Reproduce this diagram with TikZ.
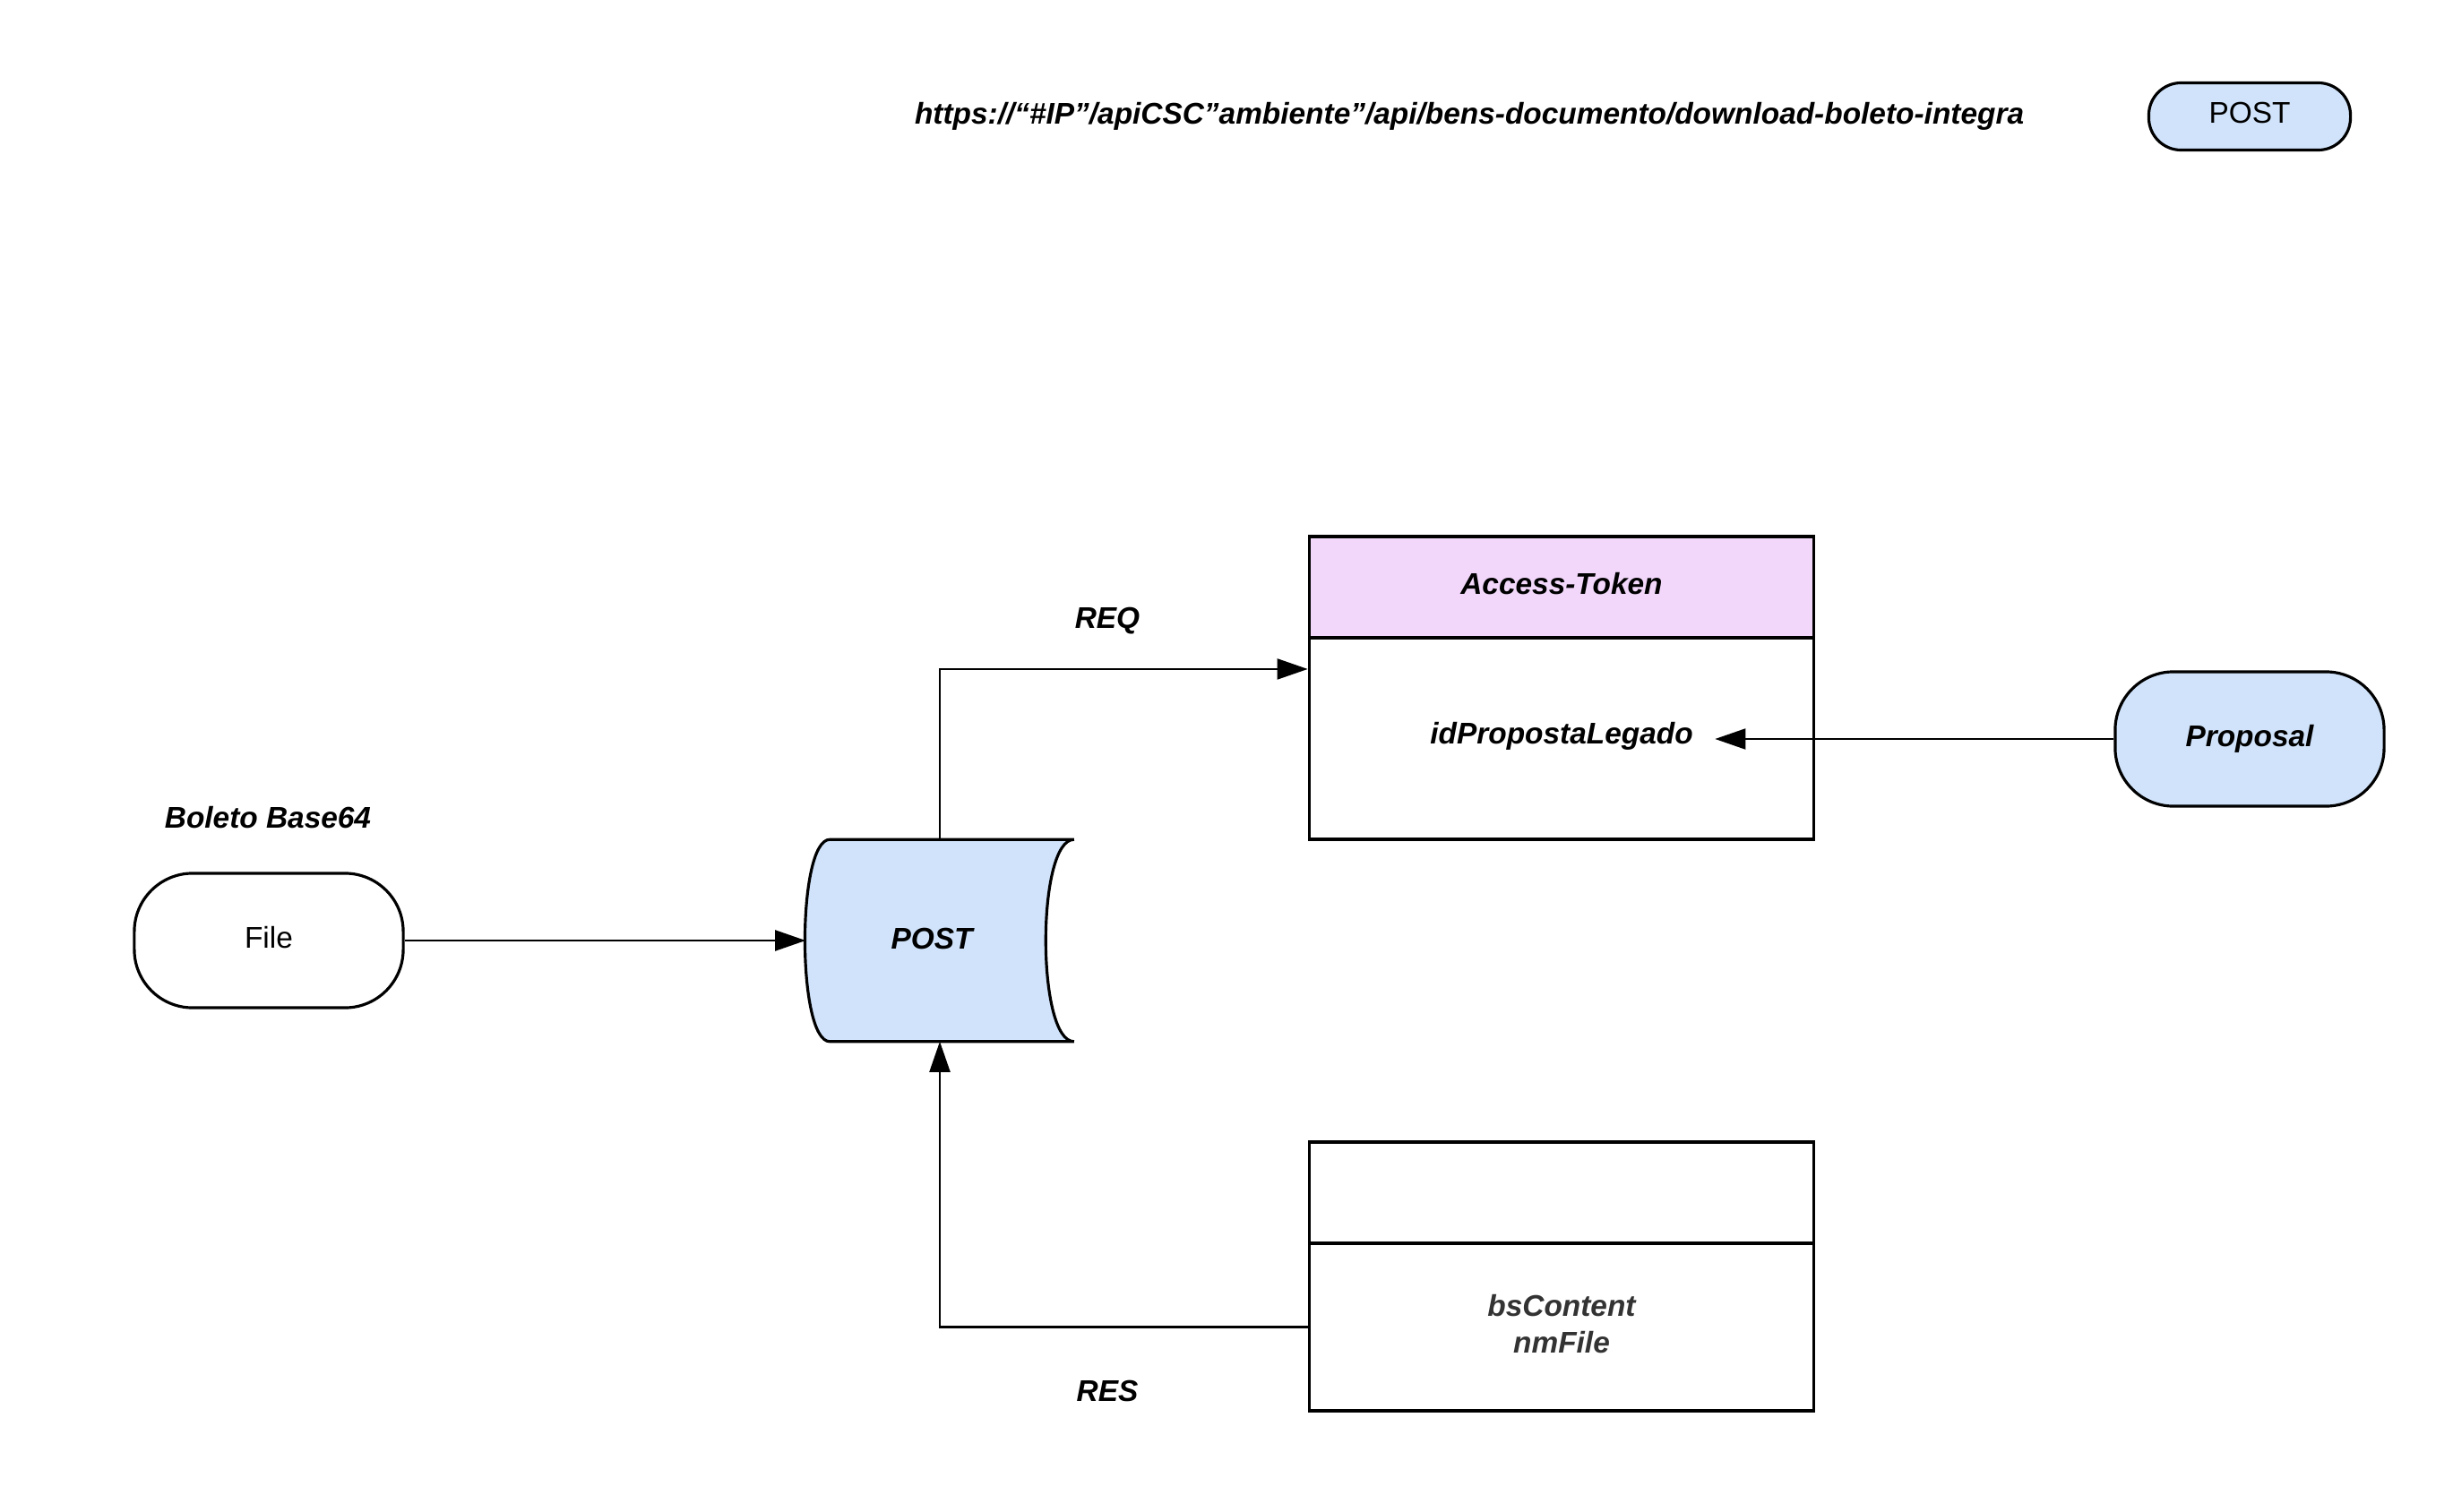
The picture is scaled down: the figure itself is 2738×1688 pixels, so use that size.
\documentclass[tikz,border=0pt]{standalone}
\usepackage{fontspec}
\setmainfont{Liberation Sans}
\usetikzlibrary{arrows.meta}
\definecolor{postblue}{HTML}{D0E3FA}
\definecolor{tokenpink}{HTML}{F2D7FA}
\definecolor{fieldgray}{HTML}{333333}

\begin{document}
\begin{tikzpicture}[x=0.01cm,y=-0.01cm,>={Triangle[length=3.4mm,width=2.3mm]},
  every node/.style={font=\fontsize{9.5}{11.6}\selectfont},
  lbl/.style={font=\fontsize{9.5}{11.6}\selectfont\bfseries\itshape},
  pill/.style={draw,line width=0.9pt,rounded corners=0.65cm,minimum width=3cm,minimum height=1.5cm,text depth=0.075cm},
  box/.style={draw,line width=0.95pt,minimum width=5.63cm,text depth=0.075cm},
  link/.style={->,line width=0.6pt}]
%
  \useasboundingbox (0,0) rectangle (2738,1688);
  \node (url) at (1640,129.5) [lbl] {https://“\#IP”/apiCSC”ambiente”/api/bens-documento/download-boleto-integra};
  \node (legend) at (2511,130) [draw,fill=postblue,line width=0.9pt,rounded corners=0.36cm,minimum width=2.25cm,minimum height=0.75cm,text depth=0.075cm] {POST};
  \node (tokenhead) at (1743,655.5) [box,fill=tokenpink,minimum height=1.13cm,lbl] {Access-Token};
  \node (tokenbody) at (1743,824.5) [box,minimum height=2.25cm] {};
  \node (propid) at (1743,822) [lbl,inner xsep=0.24cm] {idPropostaLegado};
  \node (proposal) at (2511,825) [pill,fill=postblue,lbl] {Proposal};
  \node (reshead) at (1743,1331.5) [box,minimum height=1.13cm] {};
  \node (resbody) at (1743,1481.5) [box,minimum height=1.87cm,lbl,text=fieldgray,align=center] {bsContent\\nmFile};
  \node (boleto) at (299,913) [lbl] {Boleto Base64};
  \node (file) at (300,1050) [pill] {File};
  \node (post) at (1049,1050) [minimum width=2.98cm,minimum height=2.24cm] {};
  \filldraw [fill=postblue,line width=0.9pt] ([xshift=0.27cm]post.north west) -- (post.north east)
    .. controls ([xshift=-0.42cm]post.north east) and ([xshift=-0.42cm]post.south east) .. (post.south east)
    -- ([xshift=0.27cm]post.south west)
    .. controls ([xshift=-0.1cm]post.south west) and ([xshift=-0.1cm]post.north west) .. cycle;
  \node (posttxt) at ([xshift=-0.09cm,yshift=0.02cm]post.center) [lbl] {POST};
  \node (req) at (1236,693) [lbl] {REQ};
  \node (res) at (1236,1553) [lbl] {RES};
  \draw [link] (file) -- (post);
  \draw [link] (post.north) |- ([yshift=0.775cm]tokenbody.west);
  \draw [link] (resbody.west) -| (post.south);
  \draw [link] (proposal) -- (propid.east |- proposal);
%
\end{tikzpicture}
\end{document}
